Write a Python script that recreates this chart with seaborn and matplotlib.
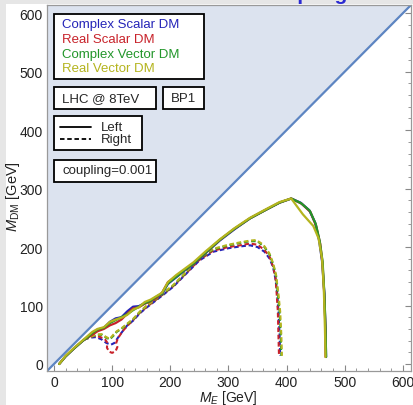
import numpy as np
import pandas as pd
import matplotlib.pyplot as plt
import seaborn as sns
from matplotlib.patches import Rectangle

# ---- data ----
models = ['Complex Scalar DM', 'Real Scalar DM', 'Complex Vector DM', 'Real Vector DM']
colors = ['#2424b8', '#c8222a', '#22962a', '#b4b41e']

# left-handed (solid) exclusion contours
left_x_pre = [9, 20, 35, 50, 58, 66, 75, 86, 96, 106, 116, 126, 136, 146, 156, 166, 176,
              186, 196, 210, 225, 240, 260, 285, 310, 337, 365, 388, 408]
left_cs_y = [0, 13, 27, 40, 46, 52, 58, 62, 72, 78, 80, 90, 98, 99, 104, 108, 114,
             120, 137, 148, 160, 171, 189, 211, 230, 249, 264, 276, 283]
left_rs_y = [0, 13, 27, 40, 45, 50, 56, 60, 66, 70, 76, 86, 95, 97, 103, 107, 113,
             122, 140, 150, 161, 172, 190, 212, 231, 249, 264, 276, 283]
left_cv_y = [0, 13, 27, 40, 46, 53, 59, 62, 70, 75, 80, 85, 92, 98, 104, 108, 115,
             121, 138, 149, 161, 172, 190, 212, 231, 249, 264, 276, 283]
left_rv_y = [0, 14, 28, 41, 48, 55, 60, 63, 72, 76, 79, 84, 93, 97, 106, 110, 116,
             122, 140, 152, 163, 174, 192, 213, 232, 250, 265, 277, 283]

left_cs_x_post = [424, 439, 449, 456, 461, 465, 467, 468]
left_cs_y_post = [276, 263, 242, 211, 176, 121, 60, 12]
left_rs_x_post = [426, 441, 451, 458, 462, 465, 467, 467]
left_rs_y_post = [274, 260, 236, 205, 170, 115, 55, 12]
left_cv_x_post = [425, 440, 450, 457, 462, 465, 467, 468]
left_cv_y_post = [275, 262, 240, 210, 175, 120, 60, 12]
left_rv_x_post = [428, 446, 455, 461, 464, 466, 467]
left_rv_y_post = [256, 236, 215, 180, 130, 60, 12]

# right-handed (dashed) exclusion contours
right_cs_x = [52, 62, 72, 82, 90, 98, 104, 110, 118, 126, 136, 148, 160, 177, 190, 205,
              220, 234, 250, 274, 300, 320, 337, 350, 362, 371, 377, 381, 384, 386, 388, 389]
right_cs_y = [42, 45, 46, 42, 36, 33, 36, 45, 56, 66, 74, 87, 97, 110, 120, 132,
              147, 161, 177, 192, 198, 201, 203, 200, 192, 180, 165, 145, 120, 90, 50, 14]
right_rs_x = [52, 62, 72, 80, 88, 92, 91, 95, 100, 106, 109, 107, 110, 118, 126, 136, 148,
              160, 177, 190, 205, 220, 234, 250, 274, 300, 320, 337, 350, 362, 371, 377,
              381, 383, 385, 386, 387]
right_rs_y = [42, 47, 48, 46, 42, 36, 28, 21, 19, 22, 29, 36, 44, 56, 65, 75, 88,
              98, 111, 121, 133, 148, 162, 178, 194, 200, 203, 206, 204, 195, 183, 166,
              148, 120, 90, 50, 14]
right_cv_x = [52, 62, 72, 82, 90, 96, 102, 108, 116, 126, 136, 148, 160, 177, 190, 205,
              220, 234, 250, 274, 300, 320, 337, 350, 362, 371, 377, 382, 385, 388, 390, 391]
right_cv_y = [42, 46, 50, 50, 45, 42, 48, 55, 60, 68, 76, 89, 100, 112, 122, 134,
              149, 164, 180, 196, 203, 207, 210, 210, 200, 187, 170, 150, 120, 90, 50, 14]
right_rv_x = [52, 62, 72, 82, 90, 96, 102, 108, 116, 126, 136, 148, 160, 177, 190, 205,
              220, 234, 250, 274, 300, 320, 337, 348, 360, 370, 377, 382, 386, 389, 391, 392]
right_rv_y = [42, 46, 50, 51, 46, 43, 50, 56, 61, 69, 77, 90, 100, 113, 123, 135,
              150, 165, 181, 197, 204, 208, 211, 212, 204, 190, 172, 152, 120, 90, 50, 14]

diag = [-12, 614]

left_curves = [
    (left_x_pre + left_cs_x_post, left_cs_y + left_cs_y_post),
    (left_x_pre + left_rs_x_post, left_rs_y + left_rs_y_post),
    (left_x_pre + left_cv_x_post, left_cv_y + left_cv_y_post),
    (left_x_pre + left_rv_x_post, left_rv_y + left_rv_y_post),
]
right_curves = [
    (right_cs_x, right_cs_y),
    (right_rs_x, right_rs_y),
    (right_cv_x, right_cv_y),
    (right_rv_x, right_rv_y),
]

# ---- style ----
sns.set_theme(style='ticks')
plt.rcParams['font.family'] = ['Liberation Sans', 'DejaVu Sans']
plt.rcParams['mathtext.fontset'] = 'custom'
plt.rcParams['mathtext.rm'] = 'Liberation Sans'
plt.rcParams['mathtext.it'] = 'Liberation Sans:italic'

fig = plt.figure(figsize=(4.14, 4.06), dpi=100, facecolor='#e6e6e6')
# white canvas (page is grey at the left and top edge)
fig.patches.append(Rectangle((6 / 414, 0), 1, 1 - 5 / 406, transform=fig.transFigure,
                             facecolor='white', edgecolor='none', zorder=-5))
fig.text(347 / 414, 1.0, 'coupling', ha='right', va='baseline', fontsize=15,
         fontweight='bold', color='#2b2bd2')

ax = fig.add_axes([47 / 414, 1 - 372 / 406, 364 / 414, 366 / 406])
ax.set_facecolor('white')

# excluded region above the diagonal
ax.fill_between(diag, diag, [614, 614], color='#dce3ef', lw=0, zorder=1)
sns.lineplot(x=diag, y=diag, ax=ax, color='#5d85c2', lw=1.6, zorder=2)

for (xs, ys), c in zip(right_curves, colors):
    df = pd.DataFrame({'x': xs, 'y': ys})
    sns.lineplot(data=df, x='x', y='y', ax=ax, sort=False, estimator=None, color=c,
                 lw=1.5, zorder=3).lines[-1].set_linestyle((0, (2.2, 1.3)))

for (xs, ys), c in zip(left_curves, colors):
    df = pd.DataFrame({'x': xs, 'y': ys})
    sns.lineplot(data=df, x='x', y='y', ax=ax, sort=False, estimator=None, color=c,
                 lw=1.6, zorder=4)

ax.set_xlim(-12, 614)
ax.set_ylim(-12, 614)
ax.set_xticks(range(0, 601, 100))
ax.set_yticks(range(0, 601, 100))
ax.set_xticks(range(0, 601, 20), minor=True)
ax.set_yticks(range(0, 601, 20), minor=True)
ax.tick_params(which='both', direction='in', top=True, right=True, color='#888888',
               labelsize=10, labelcolor='#222222', pad=3)
ax.tick_params(which='major', length=4, width=0.8)
ax.tick_params(which='minor', length=2, width=0.6)
for s in ax.spines.values():
    s.set_color('#999999')
    s.set_linewidth(0.9)

ax.set_xlabel(r'$M_E$ [GeV]', fontsize=10, color='#222222')
ax.set_ylabel(r'$M_{\mathrm{DM}}$ [GeV]', fontsize=10.5, color='#222222')
ax.xaxis.set_label_coords(0.497, -0.046)
ax.yaxis.set_label_coords(-0.07, 0.48)

# ---- framed annotation boxes ----
def box(x0, y0, x1, y1):
    ax.add_patch(Rectangle((x0, y0), x1 - x0, y1 - y0, facecolor='white',
                           edgecolor='black', lw=1.3, zorder=6))

box(0, 487, 258, 598)
for i, (m, c) in enumerate(zip(models, colors)):
    ax.text(14, 581 - i * 25, m, color=c, fontsize=9.5, va='center', zorder=7)

box(0, 436, 175, 474)
ax.text(14, 455, 'LHC @ 8TeV', fontsize=9.5, va='center', zorder=7)
box(187, 436, 258, 474)
ax.text(222, 455, 'BP1', fontsize=9.5, va='center', ha='center', zorder=7)

box(0, 366, 151, 424)
ax.plot([10, 64], [406, 406], color='black', lw=1.3, zorder=7)
ax.plot([10, 64], [384, 384], color='black', lw=1.3, ls=(0, (2.5, 1.5)), zorder=7)
ax.text(81, 406, 'Left', fontsize=9.5, va='center', zorder=7)
ax.text(81, 384, 'Right', fontsize=9.5, va='center', zorder=7)

box(0, 312, 175, 349)
ax.text(14, 331, 'coupling=0.001', fontsize=9.5, va='center', zorder=7)

fig.savefig('out.png', dpi=100, facecolor=fig.get_facecolor())
